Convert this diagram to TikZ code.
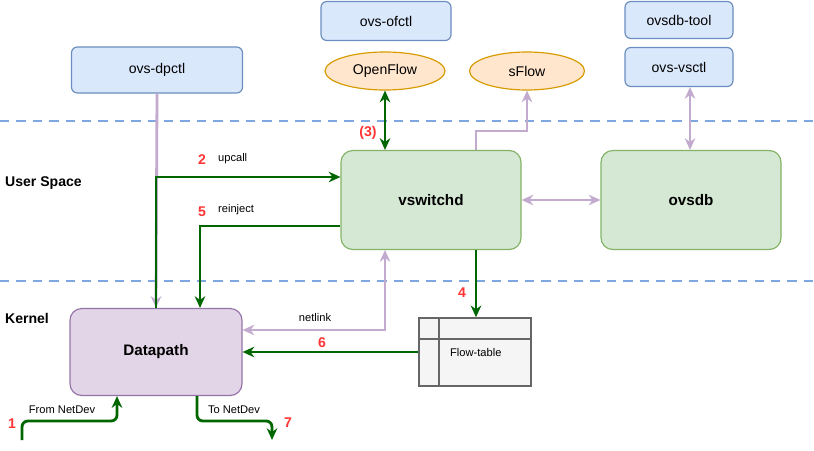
\documentclass[tikz,border=0pt]{standalone}
\usepackage{fontspec}
\setmainfont{Liberation Sans}
\usetikzlibrary{shapes.geometric,arrows.meta}
\definecolor{toolfill}{HTML}{DAE8FC}\definecolor{tooldraw}{HTML}{6C8EBF}
\definecolor{protofill}{HTML}{FFE6CC}\definecolor{protodraw}{HTML}{D79B00}
\definecolor{userfill}{HTML}{D5E8D4}\definecolor{userdraw}{HTML}{82B366}
\definecolor{dpfill}{HTML}{E1D5E7}\definecolor{dpdraw}{HTML}{9673A6}
\definecolor{tblfill}{HTML}{F5F5F5}\definecolor{tbldraw}{HTML}{666666}
\definecolor{sep}{HTML}{7EA6E0}\definecolor{ctl}{HTML}{C3ABD0}
\definecolor{flow}{HTML}{006600}\definecolor{step}{HTML}{FF3333}
\tikzset{
  tip/.tip={Stealth[length=10pt,width=9pt]},
  tool/.style={draw=tooldraw, fill=toolfill, rounded corners=5pt, line width=1pt, font=\fontsize{12}{14}\selectfont},
  proto/.style={ellipse, draw=protodraw, fill=protofill, line width=1pt, font=\fontsize{12}{14}\selectfont},
  blk/.style={rounded corners=10pt, line width=1pt, font=\bfseries\fontsize{13}{15}\selectfont},
  ctlline/.style={draw=ctl, line width=2.4pt, -tip},
  flowline/.style={draw=flow, line width=2.4pt, -tip},
  steplbl/.style={text=step, font=\bfseries\fontsize{12}{14}\selectfont},
  lbl/.style={font=\fontsize{9.5}{11}\selectfont},
}
\begin{document}
\begin{tikzpicture}[x=0.03cm, y=-0.03cm]
    \useasboundingbox (0,0) rectangle (814,451);
    % separators
    \draw[sep, line width=2.2pt, dash pattern=on 8pt off 6pt] (0,121) -- (814,121);
    \draw[sep, line width=2.2pt, dash pattern=on 8pt off 6pt] (0,281) -- (814,281);
    \node[anchor=west, font=\bfseries\fontsize{12}{14}\selectfont] (us) at (1,183) {User Space};
    \node[anchor=west, font=\bfseries\fontsize{12}{14}\selectfont] (kn) at (1,318) {Kernel};

    % tools
    \node[tool, minimum width=171*0.03cm, minimum height=46*0.03cm] (dpctl) at (157,70) {ovs-dpctl};
    \node[tool, minimum width=130*0.03cm, minimum height=39*0.03cm] (ofctl) at (386,21) {ovs-ofctl};
    \node[tool, minimum width=108*0.03cm, minimum height=37*0.03cm] (dbtool) at (679,20) {ovsdb-tool};
    \node[tool, minimum width=108*0.03cm, minimum height=39*0.03cm] (vsctl) at (679,67) {ovs-vsctl};
    \node[proto, minimum width=120*0.03cm, minimum height=38*0.03cm] (of) at (385,71) {OpenFlow};
    \node[proto, minimum width=115*0.03cm, minimum height=38*0.03cm] (sf) at (527,71) {sFlow};

    % main blocks
    \node[blk, draw=userdraw, fill=userfill, minimum width=180*0.03cm, minimum height=99*0.03cm] (vsw) at (431,200) {vswitchd};
    \node[blk, draw=userdraw, fill=userfill, minimum width=180*0.03cm, minimum height=99*0.03cm] (db) at (691,200) {ovsdb};
    \node[blk, draw=dpdraw, fill=dpfill, minimum width=172*0.03cm, minimum height=87*0.03cm] (dp) at (156,352) {Datapath};
    \node[draw=tbldraw, fill=tblfill, line width=1.3pt, minimum width=112*0.03cm, minimum height=68*0.03cm] (ft) at (475,352) {};
    \draw[tbldraw, line width=1.3pt] (439,318) -- (439,386) (419,339) -- (531,339);
    \node[anchor=west, lbl] at (446,353) {Flow-table};

    % control connectors
    \draw[ctlline] (dpctl.south) -- (dp.north);
    \draw[ctlline, tip-tip] (vsctl.south -| 690,0) -- (db.north -| 690,0);
    \draw[ctlline, tip-tip] (vsw.east) -- (db.west);
    \draw[ctlline] (vsw.north -| 476,0) |- (527,131) -- (sf.south);
    \draw[ctlline, tip-tip] (dp.east |- 0,330) -| (vsw.south -| 385,0);
    \node[lbl] at (315,318) {netlink};

    % flow connectors
    \draw[flowline, tip-tip] (of.south) -- (vsw.north -| of.south);
    \node[steplbl] at (368,133) {(3)};
    \draw[flowline] (dp.north -| 156,0) |- (vsw.west |- 0,177);
    \node[steplbl] at (202,160) {2};
    \node[lbl, anchor=west] at (214,159) {upcall};
    \draw[flowline] (vsw.west |- 0,226) -| (dp.north -| 200,0);
    \node[steplbl] at (202,212) {5};
    \node[lbl, anchor=west] at (214,210) {reinject};
    \draw[flowline] (vsw.south -| 476,0) -- (ft.north -| 476,0);
    \node[steplbl] at (462,293) {4};
    \draw[flowline] (ft.west) -- (dp.east |- ft.west);
    \node[steplbl] at (322,343) {6};
    \coordinate (in) at (22,440);
    \coordinate (out) at (272,440);
    \draw[flowline, rounded corners=5pt] (in) |- (117,421) -- (dp.south -| 117,0);
    \node[steplbl] at (12,424) {1};
    \node[lbl] at (62,410) {From NetDev};
    \draw[flowline, rounded corners=5pt] (dp.south -| 197,0) |- (272,421) -- (out);
    \node[lbl] at (234,410) {To NetDev};
    \node[steplbl] at (288,423) {7};
\end{tikzpicture}
\end{document}
